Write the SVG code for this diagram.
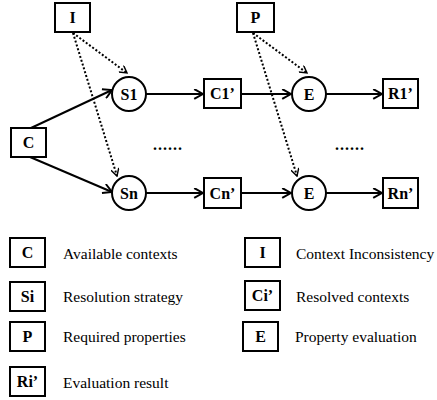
<svg xmlns="http://www.w3.org/2000/svg" width="437" height="400" viewBox="0 0 437 400">
  <style>
    .box { fill: #fff; stroke: #000; stroke-width: 2; }
    .node { fill: #fff; stroke: #000; stroke-width: 2; }
    .lbl { font-family: "Liberation Serif", "Times New Roman", serif; font-weight: bold; font-size: 16px; text-anchor: middle; fill: #000; }
    .desc { font-family: "Liberation Serif", "Times New Roman", serif; font-size: 15.5px; fill: #000; }
    .flow { fill: none; stroke: #000; stroke-width: 2; marker-end: url(#open); }
    .dot { fill: none; stroke: #000; stroke-width: 2; stroke-dasharray: 2 2; marker-end: url(#openThin); }
    .ell { font-family: "Liberation Serif", "Times New Roman", serif; font-size: 16px; font-weight: bold; letter-spacing: 1px; fill: #000; }
  </style>
  <defs>
    <marker id="open" viewBox="0 0 10 10" refX="9" refY="5" markerWidth="11" markerHeight="11" markerUnits="userSpaceOnUse" orient="auto">
      <path d="M1,0.5 L9,5 L1,9.5" fill="none" stroke="#000" stroke-width="1.8"/>
    </marker>
    <marker id="openThin" viewBox="0 0 10 10" refX="9" refY="5" markerWidth="9" markerHeight="9" markerUnits="userSpaceOnUse" orient="auto">
      <path d="M1,0.5 L9,5 L1,9.5" fill="none" stroke="#000" stroke-width="1.6"/>
    </marker>
  </defs>

  <!-- connectors -->
  <g id="connectors">
    <line class="flow" x1="31" y1="128" x2="112" y2="90"/>
    <line class="flow" x1="30" y1="157" x2="112" y2="192"/>
    <line class="flow" x1="146" y1="94" x2="203" y2="94"/>
    <line class="flow" x1="146" y1="193" x2="203" y2="193"/>
    <line class="flow" x1="241" y1="94" x2="291" y2="94"/>
    <line class="flow" x1="241" y1="193" x2="291" y2="193"/>
    <line class="flow" x1="326" y1="94" x2="382" y2="94"/>
    <line class="flow" x1="326" y1="193" x2="382" y2="193"/>
    <line class="dot" x1="73" y1="33" x2="127" y2="73"/>
    <line class="dot" x1="73" y1="33" x2="117" y2="176"/>
    <line class="dot" x1="253" y1="33" x2="307" y2="73"/>
    <line class="dot" x1="253" y1="33" x2="297" y2="176"/>
  </g>

  <!-- nodes -->
  <g id="node-I"><rect class="box" x="55" y="3" width="35" height="29"/><text class="lbl" x="72.5" y="23">I</text></g>
  <g id="node-P"><rect class="box" x="237" y="3" width="37" height="29"/><text class="lbl" x="255.5" y="23">P</text></g>
  <g id="node-C"><rect class="box" x="11" y="128" width="35" height="29"/><text class="lbl" x="28.5" y="148">C</text></g>
  <g id="node-S1"><circle class="node" cx="129" cy="94" r="17"/><text class="lbl" x="129" y="99.5">S1</text></g>
  <g id="node-Sn"><circle class="node" cx="129" cy="193" r="17"/><text class="lbl" x="129" y="198.5">Sn</text></g>
  <g id="node-C1"><rect class="box" x="204" y="79" width="37" height="29"/><text class="lbl" x="222.5" y="99">C1’</text></g>
  <g id="node-Cn"><rect class="box" x="204" y="178" width="37" height="30"/><text class="lbl" x="222.5" y="198.5">Cn’</text></g>
  <g id="node-E1"><circle class="node" cx="309" cy="94" r="17"/><text class="lbl" x="309" y="99.5">E</text></g>
  <g id="node-En"><circle class="node" cx="309" cy="193" r="17"/><text class="lbl" x="309" y="198.5">E</text></g>
  <g id="node-R1"><rect class="box" x="383" y="79" width="35" height="29"/><text class="lbl" x="400.5" y="99">R1’</text></g>
  <g id="node-Rn"><rect class="box" x="383" y="178" width="35" height="30"/><text class="lbl" x="400.5" y="198.5">Rn’</text></g>

  <text class="ell" x="153" y="150">......</text>
  <text class="ell" x="335" y="150">......</text>

  <!-- legend -->
  <g id="legend">
    <g id="legend-C"><rect class="box" x="10" y="238" width="35" height="29"/><text class="lbl" x="27.5" y="258">C</text><text class="desc" x="63" y="259">Available contexts</text></g>
    <g id="legend-Si"><rect class="box" x="10" y="282" width="35" height="29"/><text class="lbl" x="27.5" y="302">Si</text><text class="desc" x="63" y="302">Resolution strategy</text></g>
    <g id="legend-P"><rect class="box" x="10" y="322" width="35" height="29"/><text class="lbl" x="27.5" y="342">P</text><text class="desc" x="63" y="342">Required properties</text></g>
    <g id="legend-Ri"><rect class="box" x="10" y="367" width="35" height="29"/><text class="lbl" x="27.5" y="387">Ri’</text><text class="desc" x="63" y="388">Evaluation result</text></g>
    <g id="legend-I"><rect class="box" x="245" y="238" width="35" height="29"/><text class="lbl" x="262.5" y="258">I</text><text class="desc" x="296" y="259">Context Inconsistency</text></g>
    <g id="legend-Ci"><rect class="box" x="245" y="281" width="35" height="29"/><text class="lbl" x="262.5" y="301">Ci’</text><text class="desc" x="296" y="302">Resolved contexts</text></g>
    <g id="legend-E"><rect class="box" x="243" y="322" width="35" height="29"/><text class="lbl" x="260.5" y="342">E</text><text class="desc" x="295" y="342">Property evaluation</text></g>
  </g>
</svg>
